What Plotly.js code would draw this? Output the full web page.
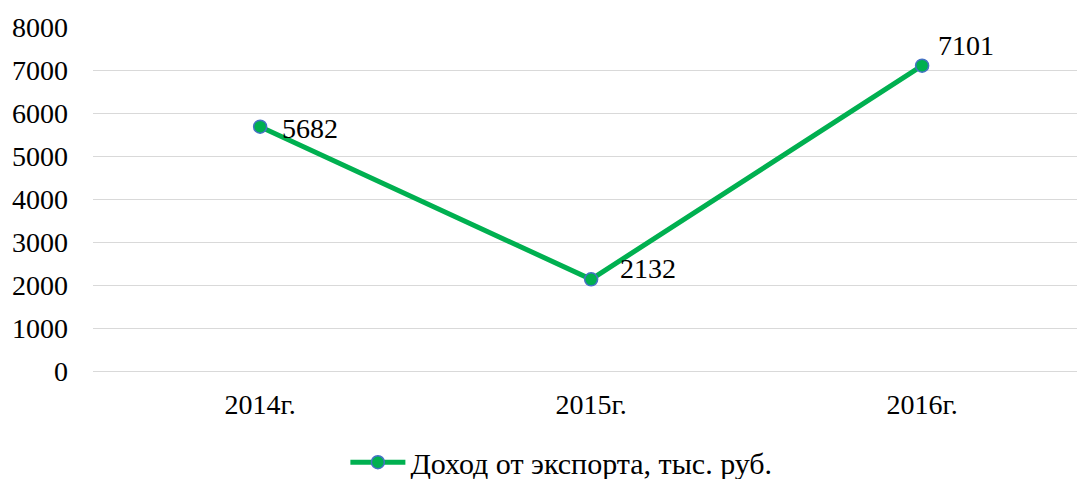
<!DOCTYPE html>
<html>
<head>
<meta charset="utf-8">
<script src="https://cdn.plot.ly/plotly-3.0.1.min.js"></script>
<style>html,body{margin:0;padding:0;background:#fff;}#chart{width:1078px;height:479px;}</style>
</head>
<body>
<div id="chart"></div>
<script>
const categories = ["2014г.", "2015г.", "2016г."];
const seriesName = "Доход от экспорта, тыс. руб.";
const values = [5682, 2132, 7101];
const yTicks = [0, 1000, 2000, 3000, 4000, 5000, 6000, 7000, 8000];
const labelShiftX = [20, 27, 14];
const labelShiftY = [-2, 11, 20];

const font = {family: "Liberation Serif, Times New Roman, serif", size: 28, color: "#000"};
const legendFont = {family: "Liberation Serif, Times New Roman, serif", size: 30, color: "#000"};

const trace = {
  x: categories,
  y: values,
  type: "scatter",
  mode: "lines+markers",
  name: seriesName,
  line: {color: "#00B050", width: 5},
  marker: {color: "#00B050", size: 13, line: {color: "#4472C4", width: 1.5}},
  cliponaxis: false
};

const annotations = categories.map((c, i) => ({
  x: c, y: values[i], text: String(values[i]),
  showarrow: false, xanchor: "left", yanchor: "middle",
  xshift: labelShiftX[i], yshift: labelShiftY[i],
  font: font
}));

const layout = {
  width: 1078, height: 479,
  margin: {l: 93, r: 1, t: 27, b: 108},
  paper_bgcolor: "#fff", plot_bgcolor: "#fff",
  font: font,
  showlegend: true,
  legend: {orientation: "h", x: 0.476, xanchor: "center", yref: "container", y: 0.035, yanchor: "middle",
           itemwidth: 55, font: legendFont},
  xaxis: {type: "category", range: [-0.505, 2.468], showgrid: false, zeroline: false,
          showline: false, ticks: "", ticklabelstandoff: 14, tickfont: font, fixedrange: true},
  yaxis: {range: [0, 8000], tickvals: yTicks, ticktext: yTicks.map(String), showgrid: true,
          gridcolor: "#D9D9D9", gridwidth: 1, zeroline: true, zerolinecolor: "#D9D9D9", zerolinewidth: 1,
          showline: false, ticks: "", ticklabelstandoff: 24, tickfont: font, fixedrange: true},
  annotations: annotations
};

Plotly.newPlot("chart", [trace], layout, {displayModeBar: false, staticPlot: true});
</script>
</body>
</html>
